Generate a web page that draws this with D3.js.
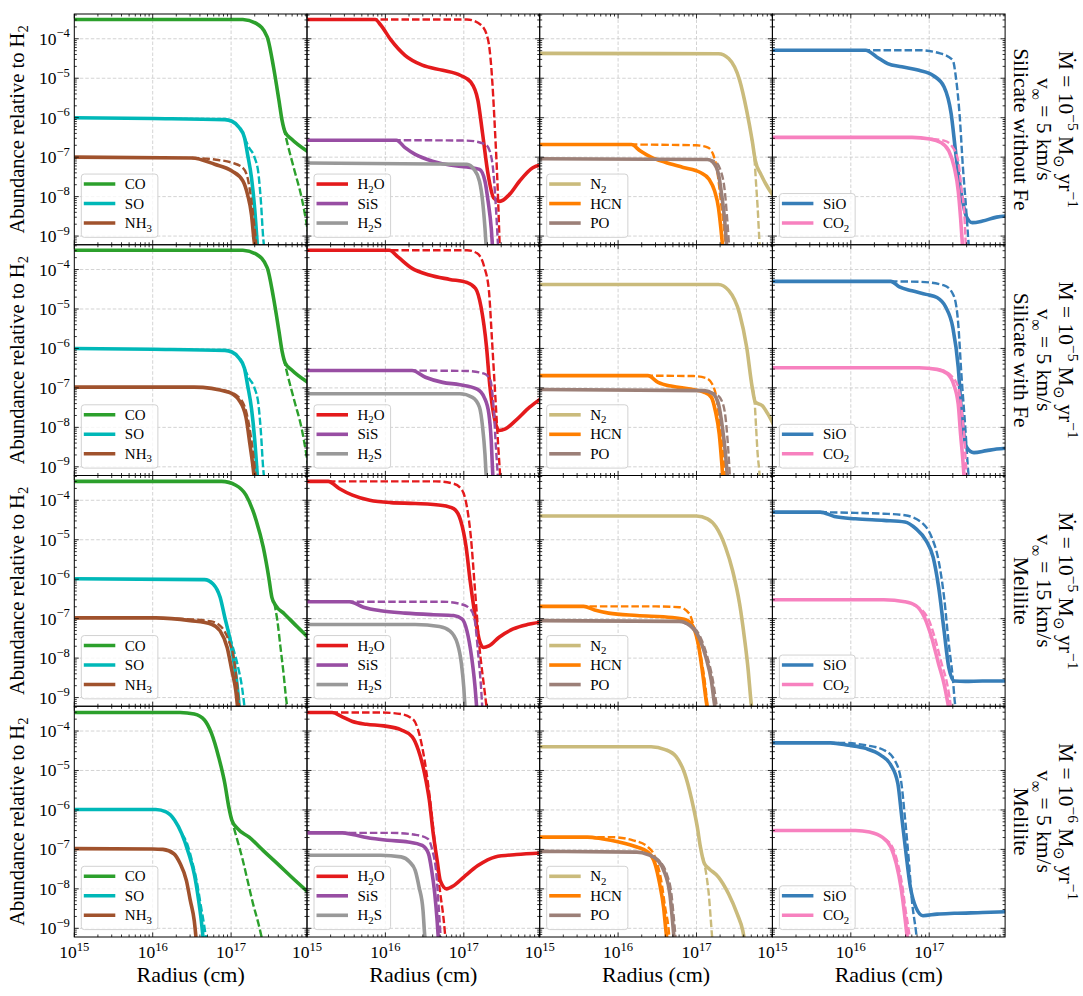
<!DOCTYPE html>
<html>
<head>
<meta charset="utf-8">
<script src="https://cdn.jsdelivr.net/npm/d3@7"></script>
<style>
  body { margin: 0; background: #fff; }
  svg { display: block; }
</style>
</head>
<body>
<svg id="chart" width="1083" height="996" font-family="Liberation Serif, serif"></svg>
<script>
/**********************
***** DATA *****
**********************/
// points are [log10 radius (cm), log10 abundance], one list per model row

const rowDust = ["Silicate without Fe", "Silicate with Fe", "Melilite", "Melilite"];
const rowMdotExp = ["−5", "−5", "−5", "−6"];
const rowVinf = ["5", "5", "15", "5"];

const speciesKeys = [["CO", "SO", "NH3"], ["H2O", "SiS", "H2S"], ["N2", "HCN", "PO"], ["SiO", "CO2"]];
const speciesLabels = [["CO", "SO", "NH_{3}"], ["H_{2}O", "SiS", "H_{2}S"], ["N_{2}", "HCN", "PO"], ["SiO", "CO_{2}"]];
const speciesColors = [["#2ca02c", "#00b8b8", "#a0522d"], ["#e41a1c", "#984ea3", "#999999"],
                       ["#cabb7c", "#ff7f00", "#9c8078"], ["#377eb8", "#f781bf"]];

const xMajor = [1e15, 1e16, 1e17];
const yMajor = [1e-9, 1e-8, 1e-7, 1e-6, 1e-5, 1e-4];
const xTickLabels = ["15", "16", "17"];
const yTickLabels = ["−9", "−8", "−7", "−6", "−5", "−4"];

const CO_solid = [
  [[15,-3.51],[17.15,-3.51],[17.32,-3.61],[17.46,-3.95],[17.54,-4.71],[17.61,-5.56],[17.65,-6.07],[17.69,-6.37],[17.77,-6.54],[17.98,-6.86]],
  [[15,-3.51],[17.15,-3.51],[17.32,-3.61],[17.46,-3.95],[17.54,-4.71],[17.61,-5.56],[17.65,-6.07],[17.69,-6.37],[17.77,-6.54],[17.98,-6.86]],
  [[15,-3.52],[16.88,-3.52],[17.06,-3.62],[17.19,-3.87],[17.32,-4.51],[17.41,-5.19],[17.48,-5.95],[17.52,-6.46],[17.57,-6.67],[17.68,-6.88],[17.85,-7.22],[17.98,-7.47]],
  [[15,-3.53],[16.35,-3.53],[16.53,-3.57],[16.66,-3.72],[16.75,-4.06],[16.84,-4.65],[16.92,-5.33],[16.97,-5.92],[17.01,-6.26],[17.08,-6.47],[17.23,-6.69],[17.41,-7.03],[17.59,-7.36],[17.77,-7.70],[17.98,-8.08]]
];
const CO_dashed = [
  [[17.67,-6.25],[17.72,-6.67],[17.81,-7.35],[17.90,-8.03],[17.98,-8.88]],
  [[17.67,-6.25],[17.72,-6.67],[17.81,-7.35],[17.90,-8.03],[17.98,-8.93]],
  [[17.55,-6.6],[17.59,-7.05],[17.63,-7.73],[17.67,-8.41],[17.70,-9.0],[17.73,-9.4]],
  [[17.0,-6.2],[17.08,-6.77],[17.15,-7.28],[17.21,-7.79],[17.28,-8.38],[17.35,-8.89],[17.40,-9.31],[17.42,-9.45]]
];
const SO_solid = [
  [[15,-6.0],[16.0,-6.02],[16.92,-6.05],[17.01,-6.09],[17.10,-6.24],[17.17,-6.5],[17.21,-6.93],[17.26,-7.52],[17.30,-8.29],[17.34,-9.4]],
  [[15,-6.0],[16.0,-6.02],[16.92,-6.05],[17.01,-6.09],[17.10,-6.24],[17.17,-6.5],[17.21,-6.93],[17.26,-7.52],[17.30,-8.29],[17.34,-9.4]],
  [[15,-5.99],[16.66,-6.01],[16.77,-6.12],[16.86,-6.46],[16.92,-6.97],[16.98,-7.47],[17.04,-8.15],[17.08,-8.75],[17.11,-9.4]],
  [[15,-5.99],[16.04,-5.99],[16.17,-6.05],[16.28,-6.26],[16.37,-6.6],[16.46,-7.11],[16.53,-7.62],[16.58,-8.21],[16.62,-8.81],[16.65,-9.4]]
];
const SO_dashed = [
  [[17.17,-6.5],[17.23,-6.76],[17.30,-7.01],[17.35,-7.44],[17.38,-8.12],[17.41,-9.06],[17.43,-9.4]],
  [[17.17,-6.5],[17.23,-6.76],[17.30,-7.01],[17.35,-7.44],[17.38,-8.12],[17.41,-9.06],[17.43,-9.4]],
  [[16.95,-7.2],[17.01,-7.64],[17.08,-8.15],[17.14,-8.75],[17.18,-9.4]],
  [[16.37,-6.6],[16.44,-6.86],[16.50,-7.28],[16.56,-7.79],[16.61,-8.38],[16.66,-8.97],[16.69,-9.4]]
];
const NH3_solid = [
  [[15,-7.0],[16.5,-7.02],[16.79,-7.18],[17.01,-7.35],[17.15,-7.6],[17.21,-7.95],[17.26,-8.46],[17.29,-9.06],[17.31,-9.4]],
  [[15,-6.98],[16.53,-6.98],[16.97,-7.11],[17.10,-7.31],[17.19,-7.75],[17.24,-8.43],[17.29,-9.19],[17.30,-9.4]],
  [[15,-6.98],[16.04,-6.98],[16.48,-7.05],[16.75,-7.14],[16.86,-7.31],[16.95,-7.73],[17.01,-8.32],[17.06,-8.83],[17.09,-9.4]],
  [[15,-6.98],[16.0,-6.99],[16.13,-7.0],[16.27,-7.11],[16.35,-7.36],[16.43,-7.79],[16.48,-8.30],[16.53,-8.81],[16.56,-9.4]]
];
const NH3_dashed = [
  [[16.5,-7.02],[16.79,-7.06],[17.01,-7.14],[17.15,-7.27],[17.21,-7.52],[17.26,-8.12],[17.30,-8.8],[17.33,-9.4]],
  [[16.9,-7.06],[17.10,-7.24],[17.20,-7.66],[17.26,-8.34],[17.31,-9.19],[17.32,-9.4]],
  [[16.3,-7.0],[16.75,-7.07],[16.88,-7.22],[16.97,-7.56],[17.04,-8.07],[17.08,-8.75],[17.11,-9.4]],
  []
];
const H2O_solid = [
  [[15,-3.51],[15.87,-3.51],[15.94,-3.65],[16.07,-4.03],[16.25,-4.42],[16.47,-4.67],[16.73,-4.80],[16.96,-4.93],[17.09,-5.10],[17.18,-5.56],[17.24,-6.41],[17.31,-7.44],[17.38,-8.03],[17.46,-8.12],[17.58,-7.95],[17.71,-7.61],[17.88,-7.27],[17.98,-7.2]],
  [[15,-3.51],[16.05,-3.51],[16.16,-3.68],[16.34,-3.97],[16.56,-4.14],[16.82,-4.25],[17.04,-4.33],[17.15,-4.48],[17.22,-4.95],[17.29,-5.97],[17.33,-6.90],[17.38,-7.66],[17.45,-8.08],[17.53,-8.04],[17.66,-7.83],[17.84,-7.49],[17.98,-7.28]],
  [[15,-3.52],[15.27,-3.52],[15.41,-3.70],[15.58,-3.87],[15.80,-4.0],[16.07,-4.06],[16.38,-4.08],[16.73,-4.13],[16.87,-4.21],[16.96,-4.51],[17.03,-5.19],[17.08,-6.03],[17.14,-6.88],[17.20,-7.56],[17.25,-7.73],[17.32,-7.69],[17.45,-7.47],[17.63,-7.26],[17.81,-7.15],[17.98,-7.09]],
  [[15,-3.53],[15.32,-3.53],[15.45,-3.64],[15.58,-3.76],[15.76,-3.83],[15.98,-3.87],[16.20,-3.97],[16.34,-4.14],[16.42,-4.48],[16.50,-5.08],[16.56,-5.75],[16.61,-6.60],[16.66,-7.28],[16.70,-7.79],[16.78,-8.0],[16.87,-7.92],[17.00,-7.70],[17.18,-7.41],[17.40,-7.19],[17.67,-7.13],[17.98,-7.09]]
];
const H2O_dashed = [
  [[15,-3.51],[17.04,-3.51],[17.22,-3.65],[17.31,-4.03],[17.35,-4.71],[17.40,-6.41],[17.43,-7.69],[17.46,-9.4]],
  [[15,-3.51],[17.04,-3.51],[17.17,-3.59],[17.26,-3.93],[17.32,-4.53],[17.36,-5.80],[17.41,-7.49],[17.44,-8.51],[17.47,-9.4]],
  [[15,-3.52],[16.64,-3.52],[16.87,-3.58],[16.98,-3.75],[17.04,-4.17],[17.09,-4.93],[17.14,-6.2],[17.20,-7.73],[17.26,-8.75],[17.30,-9.4]],
  [[15.3,-3.53],[15.94,-3.53],[16.20,-3.57],[16.36,-3.72],[16.43,-4.06],[16.50,-4.74],[16.57,-5.75],[16.64,-7.03],[16.69,-7.96],[16.74,-8.72],[16.77,-9.31],[16.78,-9.45]]
];
const SiS_solid = [
  [[15,-6.57],[16.14,-6.57],[16.25,-6.76],[16.38,-6.93],[16.60,-7.10],[16.82,-7.20],[17.04,-7.25],[17.20,-7.31],[17.27,-7.61],[17.31,-8.12],[17.35,-8.8],[17.37,-9.4]],
  [[15,-6.56],[16.34,-6.56],[16.51,-6.73],[16.73,-6.86],[16.95,-6.92],[17.17,-7.03],[17.26,-7.24],[17.32,-7.66],[17.35,-8.34],[17.37,-9.19],[17.38,-9.4]],
  [[15,-6.57],[15.54,-6.57],[15.72,-6.71],[15.94,-6.80],[16.25,-6.86],[16.61,-6.90],[16.87,-6.92],[16.98,-7.01],[17.04,-7.31],[17.10,-7.98],[17.14,-8.66],[17.17,-9.4]],
  [[15,-6.58],[15.45,-6.58],[15.58,-6.62],[15.76,-6.70],[16.03,-6.77],[16.29,-6.81],[16.47,-6.90],[16.55,-7.11],[16.59,-7.53],[16.63,-8.13],[16.66,-8.81],[16.68,-9.4]]
];
const SiS_dashed = [
  [[16.1,-6.57],[17.04,-6.58],[17.27,-6.67],[17.33,-6.84],[17.38,-7.44],[17.41,-8.29],[17.44,-9.4]],
  [[16.3,-6.56],[17.04,-6.57],[17.26,-6.64],[17.34,-6.81],[17.38,-7.49],[17.41,-8.51],[17.44,-9.4]],
  [[15.5,-6.57],[16.73,-6.57],[16.96,-6.63],[17.08,-6.75],[17.14,-7.05],[17.18,-7.81],[17.22,-8.75],[17.24,-9.4]],
  [[15.4,-6.58],[16.07,-6.58],[16.38,-6.63],[16.54,-6.73],[16.60,-7.03],[16.65,-7.62],[16.68,-8.47],[16.71,-9.4]]
];
const H2S_solid = [
  [[15,-7.15],[17.04,-7.18],[17.13,-7.31],[17.20,-7.61],[17.24,-8.12],[17.27,-8.8],[17.29,-9.4]],
  [[15,-7.15],[16.95,-7.15],[17.11,-7.24],[17.20,-7.49],[17.24,-8.0],[17.27,-8.68],[17.29,-9.4]],
  [[15,-7.15],[16.38,-7.15],[16.69,-7.20],[16.82,-7.31],[16.92,-7.64],[16.97,-8.15],[17.00,-8.75],[17.02,-9.4]],
  [[15,-7.15],[15.94,-7.15],[16.20,-7.19],[16.31,-7.32],[16.38,-7.53],[16.43,-7.96],[16.48,-8.55],[16.50,-9.14],[16.52,-9.4]]
];
const H2S_dashed = [[], [], [], []];
const N2_solid = [
  [[15,-4.37],[17.28,-4.38],[17.41,-4.50],[17.55,-5.05],[17.64,-5.82],[17.71,-6.58],[17.75,-7.09],[17.82,-7.43],[17.91,-7.77],[17.98,-7.98]],
  [[15,-4.38],[17.28,-4.38],[17.41,-4.53],[17.55,-5.12],[17.64,-5.97],[17.71,-6.98],[17.75,-7.36],[17.84,-7.45],[17.91,-7.66],[17.98,-7.92]],
  [[15,-4.40],[17.0,-4.40],[17.14,-4.47],[17.25,-4.68],[17.37,-5.19],[17.46,-5.78],[17.55,-6.63],[17.61,-7.47],[17.66,-8.32],[17.69,-9.0],[17.71,-9.4]],
  [[15,-4.40],[16.42,-4.40],[16.60,-4.47],[16.74,-4.65],[16.85,-5.08],[16.94,-5.75],[17.01,-6.43],[17.05,-6.94],[17.10,-7.36],[17.16,-7.49],[17.28,-7.70],[17.41,-8.13],[17.52,-8.64],[17.59,-9.06],[17.62,-9.4]]
];
const N2_dashed = [
  [[17.70,-6.5],[17.74,-7.05],[17.76,-7.68],[17.78,-8.28],[17.80,-9.05],[17.81,-9.4]],
  [[17.71,-6.98],[17.74,-7.32],[17.76,-8.0],[17.78,-8.68],[17.80,-9.10],[17.81,-9.4]],
  [],
  [[17.08,-7.2],[17.13,-7.70],[17.16,-8.21],[17.18,-8.72],[17.20,-9.23],[17.21,-9.4]]
];
const HCN_solid = [
  [[15,-6.68],[16.17,-6.68],[16.28,-6.84],[16.42,-7.0],[16.60,-7.13],[16.83,-7.26],[17.05,-7.39],[17.16,-7.56],[17.23,-7.85],[17.28,-8.28],[17.31,-8.79],[17.34,-9.4]],
  [[15,-6.69],[16.38,-6.69],[16.51,-6.86],[16.69,-6.96],[16.92,-7.03],[17.10,-7.11],[17.19,-7.24],[17.24,-7.58],[17.29,-8.17],[17.32,-8.85],[17.34,-9.4]],
  [[15,-6.69],[15.56,-6.69],[15.70,-6.78],[15.88,-6.86],[16.24,-6.92],[16.69,-6.97],[16.87,-7.03],[16.96,-7.22],[17.03,-7.73],[17.08,-8.41],[17.13,-9.17],[17.15,-9.4]],
  [[15,-6.69],[15.61,-6.69],[15.79,-6.73],[16.01,-6.81],[16.24,-6.94],[16.38,-7.07],[16.47,-7.36],[16.53,-7.87],[16.58,-8.47],[16.61,-9.06],[16.63,-9.4]]
];
const HCN_dashed = [
  [[16.15,-6.68],[17.0,-6.70],[17.14,-6.75],[17.21,-6.92],[17.27,-7.43],[17.31,-8.11],[17.36,-8.96],[17.38,-9.4]],
  [[16.35,-6.69],[16.96,-6.70],[17.12,-6.75],[17.20,-6.90],[17.26,-7.32],[17.30,-8.0],[17.35,-8.85],[17.37,-9.4]],
  [[15.5,-6.69],[16.47,-6.69],[16.78,-6.71],[16.91,-6.88],[16.98,-7.31],[17.05,-7.9],[17.11,-8.66],[17.15,-9.4]],
  [[15.6,-6.69],[15.92,-6.69],[16.19,-6.77],[16.38,-6.94],[16.47,-7.19],[16.55,-7.79],[16.60,-8.47],[16.65,-9.14],[16.66,-9.4]]
];
const PO_solid = [
  [[15,-7.04],[17.14,-7.06],[17.21,-7.13],[17.28,-7.43],[17.32,-7.94],[17.36,-8.62],[17.39,-9.4]],
  [[15,-7.04],[17.10,-7.07],[17.21,-7.15],[17.28,-7.41],[17.33,-8.0],[17.37,-8.68],[17.40,-9.4]],
  [[15,-7.05],[16.78,-7.07],[16.92,-7.18],[17.03,-7.47],[17.12,-7.98],[17.19,-8.58],[17.23,-9.17],[17.25,-9.4]],
  [[15,-7.05],[16.24,-7.07],[16.38,-7.13],[16.51,-7.28],[16.60,-7.62],[16.66,-8.13],[16.69,-8.72],[16.72,-9.4]]
];
const PO_dashed = [
  [[17.14,-7.06],[17.23,-7.10],[17.31,-7.35],[17.36,-7.85],[17.39,-8.53],[17.42,-9.4]],
  [[17.15,-7.1],[17.25,-7.16],[17.32,-7.32],[17.37,-7.75],[17.40,-8.42],[17.43,-9.4]],
  [[16.85,-7.12],[16.94,-7.18],[17.05,-7.47],[17.14,-7.98],[17.21,-8.58],[17.27,-9.4]],
  [[16.45,-7.2],[16.53,-7.3],[16.62,-7.62],[16.68,-8.13],[16.71,-8.72],[16.74,-9.4]]
];
const SiO_solid = [
  [[15,-4.29],[16.19,-4.29],[16.33,-4.46],[16.47,-4.63],[16.65,-4.71],[16.87,-4.80],[17.05,-4.93],[17.19,-5.22],[17.28,-5.90],[17.34,-6.92],[17.41,-7.94],[17.48,-8.53],[17.55,-8.66],[17.68,-8.62],[17.86,-8.52],[17.98,-8.49]],
  [[15,-4.30],[16.51,-4.30],[16.62,-4.44],[16.78,-4.54],[16.96,-4.63],[17.10,-4.71],[17.21,-4.95],[17.30,-5.46],[17.37,-6.47],[17.41,-7.58],[17.48,-8.51],[17.57,-8.64],[17.73,-8.59],[17.86,-8.55],[17.98,-8.53]],
  [[15,-4.30],[15.61,-4.30],[15.79,-4.41],[16.06,-4.47],[16.42,-4.51],[16.69,-4.55],[16.83,-4.72],[16.96,-5.02],[17.05,-5.44],[17.12,-6.20],[17.19,-7.31],[17.25,-8.24],[17.32,-8.58],[17.46,-8.59],[17.68,-8.58],[17.98,-8.58]],
  [[15,-4.30],[15.74,-4.30],[15.97,-4.36],[16.19,-4.44],[16.38,-4.61],[16.51,-4.86],[16.60,-5.33],[16.65,-6.18],[16.70,-7.03],[16.76,-7.96],[16.83,-8.47],[16.92,-8.68],[17.10,-8.64],[17.32,-8.62],[17.68,-8.60],[17.98,-8.58]]
];
const SiO_dashed = [
  [[16.15,-4.29],[16.87,-4.29],[17.14,-4.37],[17.30,-4.54],[17.34,-4.97],[17.39,-5.99],[17.43,-7.26],[17.47,-8.28],[17.50,-9.13],[17.51,-9.4]],
  [[16.5,-4.30],[16.87,-4.31],[17.19,-4.40],[17.31,-4.65],[17.37,-5.37],[17.41,-6.64],[17.46,-8.0],[17.50,-9.19],[17.51,-9.4]],
  [[15.6,-4.30],[16.06,-4.32],[16.42,-4.34],[16.69,-4.38],[16.92,-4.59],[17.03,-4.93],[17.12,-5.53],[17.19,-6.46],[17.25,-7.64],[17.30,-8.49],[17.33,-9.17],[17.35,-9.4]],
  [[15.7,-4.30],[15.88,-4.30],[16.19,-4.36],[16.42,-4.48],[16.56,-4.74],[16.64,-5.25],[16.69,-6.18],[16.74,-7.28],[16.78,-8.30],[16.83,-9.06],[16.85,-9.4]]
];
const CO2_solid = [
  [[15,-6.5],[16.78,-6.5],[17.01,-6.54],[17.14,-6.62],[17.25,-6.84],[17.32,-7.26],[17.37,-7.85],[17.40,-8.53],[17.43,-9.4]],
  [[15,-6.49],[16.87,-6.49],[17.10,-6.53],[17.23,-6.64],[17.31,-6.90],[17.37,-7.41],[17.40,-8.17],[17.43,-8.85],[17.45,-9.4]],
  [[15,-6.52],[16.42,-6.52],[16.69,-6.57],[16.83,-6.67],[16.94,-6.97],[17.03,-7.47],[17.12,-8.15],[17.19,-8.66],[17.24,-9.17],[17.26,-9.4]],
  [[15,-6.52],[16.06,-6.52],[16.24,-6.56],[16.40,-6.69],[16.51,-6.94],[16.58,-7.36],[16.64,-7.96],[16.68,-8.55],[16.71,-9.06],[16.73,-9.4]]
];
const CO2_dashed = [
  [[16.9,-6.52],[17.19,-6.58],[17.30,-6.75],[17.37,-7.09],[17.41,-7.77],[17.45,-8.53],[17.47,-9.4]],
  [[17.1,-6.53],[17.19,-6.57],[17.30,-6.73],[17.37,-6.98],[17.41,-7.49],[17.45,-8.34],[17.48,-9.4]],
  [[16.8,-6.65],[16.98,-6.97],[17.07,-7.47],[17.16,-8.15],[17.23,-8.66],[17.29,-9.4]],
  [[16.42,-6.72],[16.53,-6.94],[16.60,-7.36],[16.66,-7.96],[16.70,-8.55],[16.74,-9.06],[16.76,-9.4]]
];

const curves = {
  CO: [CO_solid, CO_dashed], SO: [SO_solid, SO_dashed], NH3: [NH3_solid, NH3_dashed],
  H2O: [H2O_solid, H2O_dashed], SiS: [SiS_solid, SiS_dashed], H2S: [H2S_solid, H2S_dashed],
  N2: [N2_solid, N2_dashed], HCN: [HCN_solid, HCN_dashed], PO: [PO_solid, PO_dashed],
  SiO: [SiO_solid, SiO_dashed], CO2: [CO2_solid, CO2_dashed]
};

/**********************
***** BASIC SETUP *****
**********************/
const FONT = "'Liberation Serif', 'Times New Roman', serif";
const svg = d3.select("#chart").attr("font-family", FONT);
const colLeft = 74.3, colW = 232.7;
const rowTop = 14, rowH = 230.75;

const xScale = d3.scaleLog().domain([1e15, Math.pow(10, 17.968)]).range([0, colW]);
const yScale = d3.scaleLog().domain([Math.pow(10, -9.22), Math.pow(10, -3.372)]).range([rowH, 0]);

const xMinor = [], yMinor = [];
for (let k = 15; k <= 17; k++) for (let m = 2; m <= 9; m++) {
  const v = m * Math.pow(10, k);
  if (v < xScale.domain()[1]) xMinor.push(v);
}
for (let k = -10; k <= -4; k++) for (let m = 2; m <= 9; m++) {
  const v = m * Math.pow(10, k);
  if (v > yScale.domain()[0] && v < yScale.domain()[1]) yMinor.push(v);
}

// text with ^{..} superscripts and _{..} subscripts
function rich(textSel, str, fs) {
  const re = /([\^_])\{([^}]*)\}/g;
  const parts = [];
  let last = 0, m;
  while ((m = re.exec(str))) {
    if (m.index > last) parts.push({t: str.slice(last, m.index), k: 0});
    parts.push({t: m[2], k: m[1] === "^" ? 1 : -1});
    last = re.lastIndex;
  }
  if (last < str.length) parts.push({t: str.slice(last), k: 0});
  textSel.attr("font-family", FONT).attr("fill", "#000");
  let shift = 0;
  parts.forEach(p => {
    const target = p.k === 1 ? -0.42 * fs : p.k === -1 ? 0.24 * fs : 0;
    const ts = textSel.append("tspan").text(p.t).attr("font-size", p.k ? fs * 0.72 : fs);
    if (target - shift !== 0) ts.attr("dy", target - shift);
    shift = target;
  });
  return textSel;
}

const line = d3.line()
  .x(d => xScale(Math.pow(10, d[0])))
  .y(d => yScale(Math.pow(10, d[1])))
  .curve(d3.curveMonotoneX);

/**********************
***** PANELS *****
**********************/
rowDust.forEach((dust, r) => {
  speciesKeys.forEach((keys, c) => {
    const g = svg.append("g")
      .attr("transform", `translate(${colLeft + c * colW}, ${rowTop + r * rowH})`);

    const clipId = `clip-${r}-${c}`;
    g.append("clipPath").attr("id", clipId)
      .append("rect").attr("width", colW).attr("height", rowH);

    // grid
    g.selectAll(".xGrid").data(xMajor.slice(1)).enter().append("line")
      .attr("x1", d => xScale(d)).attr("x2", d => xScale(d))
      .attr("y1", 0).attr("y2", rowH)
      .attr("stroke", "#c8c8c8").attr("stroke-width", 0.8).attr("stroke-dasharray", "3.5,2");
    g.selectAll(".yGrid").data(yMajor).enter().append("line")
      .attr("x1", 0).attr("x2", colW)
      .attr("y1", d => yScale(d)).attr("y2", d => yScale(d))
      .attr("stroke", "#c8c8c8").attr("stroke-width", 0.8).attr("stroke-dasharray", "3.5,2");

    // curves
    const plot = g.append("g").attr("clip-path", `url(#${clipId})`);
    keys.forEach((key, i) => {
      const col = speciesColors[c][i];
      plot.append("path")
        .attr("d", line(curves[key][0][r]))
        .attr("fill", "none").attr("stroke", col)
        .attr("stroke-width", 3.6).attr("stroke-linejoin", "round");
      const dashed = curves[key][1][r];
      if (dashed.length) {
        plot.append("path")
          .attr("d", line(dashed))
          .attr("fill", "none").attr("stroke", col)
          .attr("stroke-width", 2.4).attr("stroke-dasharray", "7.5,3");
      }
    });

    // legend
    const rowSp = 19.5;
    const legH = 63.3 - (3 - keys.length) * rowSp;
    const leg = g.append("g").attr("transform", `translate(7, ${rowH - 7.4 - legH})`);
    const box = leg.append("rect")
      .attr("height", legH).attr("rx", 3)
      .attr("fill", "#fff").attr("fill-opacity", 0.8)
      .attr("stroke", "#d2d2d2").attr("stroke-width", 1);
    let maxW = 0;
    keys.forEach((key, i) => {
      const cy = 10 + i * rowSp;
      leg.append("line")
        .attr("x1", 2.5).attr("x2", 34).attr("y1", cy).attr("y2", cy)
        .attr("stroke", speciesColors[c][i]).attr("stroke-width", 3.6);
      const t = leg.append("text").attr("x", 43.5).attr("y", cy + 5);
      rich(t, speciesLabels[c][i], 15);
      maxW = Math.max(maxW, t.node().getComputedTextLength());
    });
    box.attr("width", 43.5 + maxW + 6);

    // frame and ticks
    g.append("rect").attr("width", colW).attr("height", rowH)
      .attr("fill", "none").attr("stroke", "#000").attr("stroke-width", 1);
    const ticks = g.append("g").attr("stroke", "#000").attr("stroke-width", 0.8);
    [[xMajor, 4.5], [xMinor, 2.5]].forEach(([vals, len]) => {
      vals.forEach(v => {
        const x = xScale(v);
        ticks.append("line").attr("x1", x).attr("x2", x).attr("y1", rowH).attr("y2", rowH - len);
        ticks.append("line").attr("x1", x).attr("x2", x).attr("y1", 0).attr("y2", len);
      });
    });
    [[yMajor, 4.5], [yMinor, 2.5]].forEach(([vals, len]) => {
      vals.forEach(v => {
        const y = yScale(v);
        ticks.append("line").attr("x1", 0).attr("x2", len).attr("y1", y).attr("y2", y);
        ticks.append("line").attr("x1", colW).attr("x2", colW - len).attr("y1", y).attr("y2", y);
      });
    });

    // tick labels
    if (c === 0) {
      yMajor.forEach((v, i) => {
        const t = g.append("text").attr("x", -4.5).attr("y", yScale(v) + 6)
          .attr("text-anchor", "end");
        rich(t, `10^{${yTickLabels[i]}}`, 17.5);
      });
    }
    if (r === rowDust.length - 1) {
      xMajor.forEach((v, i) => {
        const t = g.append("text").attr("x", xScale(v)).attr("y", rowH + 21)
          .attr("text-anchor", "middle");
        rich(t, `10^{${xTickLabels[i]}}`, 17.5);
      });
    }
  });

  /*************************
  ***** ROW LABELS *****
  *************************/
  const cy = rowTop + r * rowH + rowH / 2;
  const yl = svg.append("text")
    .attr("transform", `translate(23.5, ${cy}) rotate(-90)`)
    .attr("text-anchor", "middle");
  rich(yl, "Abundance relative to H_{2}", 20.5);

  const lines = [
    `Ṁ = 10^{${rowMdotExp[r]}} M_{⊙} yr^{−1}`,
    `v_{∞} = ${rowVinf[r]} km/s`,
    dust
  ];
  const bx = [1059, 1036.5, 1014];
  lines.forEach((s, i) => {
    const t = svg.append("text")
      .attr("transform", `translate(${bx[i]}, ${cy}) rotate(90)`)
      .attr("text-anchor", "middle");
    rich(t, s, 21.5);
  });
});

// x axis titles
speciesKeys.forEach((k, c) => {
  svg.append("text")
    .attr("x", colLeft + c * colW + colW / 2).attr("y", 982)
    .attr("text-anchor", "middle").attr("font-size", 22)
    .attr("font-family", FONT).attr("fill", "#000")
    .text("Radius (cm)");
});
</script>
</body>
</html>
